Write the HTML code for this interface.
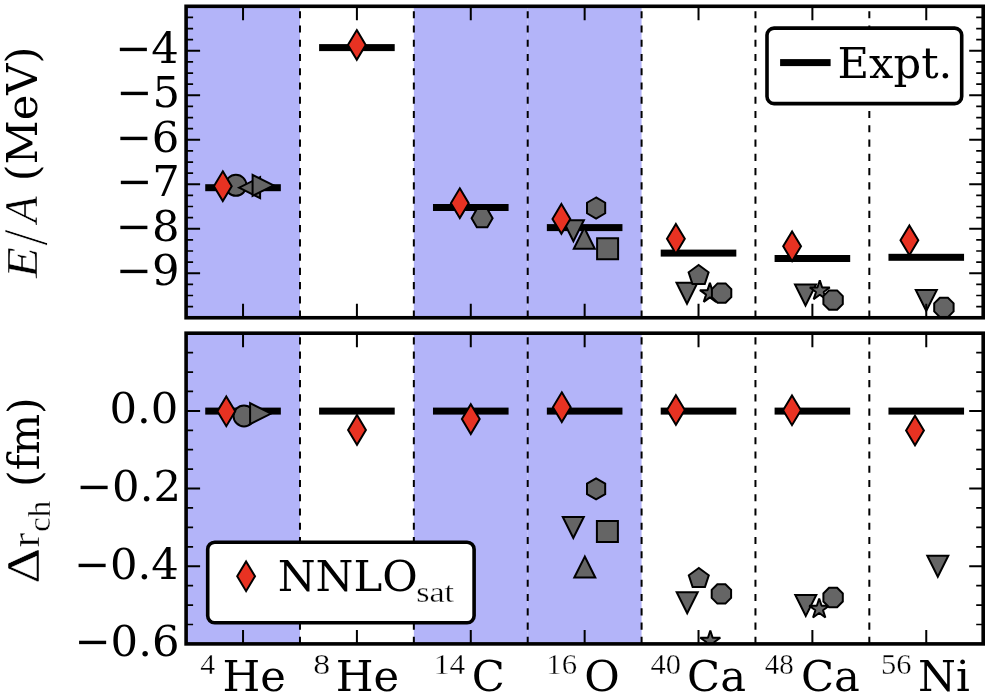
<!DOCTYPE html>
<html><head><meta charset="utf-8"><title>plot</title>
<style>html,body{margin:0;padding:0;background:#fff;}svg{display:block;}</style>
</head><body>
<svg width="992" height="698" viewBox="0 0 992 698">
<rect width="992" height="698" fill="#fff"/>
<clipPath id="c1"><rect x="186.1" y="6.3" width="797.1" height="311.45"/></clipPath>
<g clip-path="url(#c1)">
<rect x="186.1" y="6.3" width="113.87" height="311.45" fill="#b3b4f9"/>
<rect x="413.84" y="6.3" width="113.87" height="311.45" fill="#b3b4f9"/>
<rect x="527.71" y="6.3" width="113.87" height="311.45" fill="#b3b4f9"/>
<path d="M299.97 317.75 V6.3" stroke="#000" stroke-width="2" stroke-dasharray="7.13 7.13" fill="none"/>
<path d="M413.84 317.75 V6.3" stroke="#000" stroke-width="2" stroke-dasharray="7.13 7.13" fill="none"/>
<path d="M527.71 317.75 V6.3" stroke="#000" stroke-width="2" stroke-dasharray="7.13 7.13" fill="none"/>
<path d="M641.59 317.75 V6.3" stroke="#000" stroke-width="2" stroke-dasharray="7.13 7.13" fill="none"/>
<path d="M755.46 317.75 V6.3" stroke="#000" stroke-width="2" stroke-dasharray="7.13 7.13" fill="none"/>
<path d="M869.33 317.75 V6.3" stroke="#000" stroke-width="2" stroke-dasharray="7.13 7.13" fill="none"/>
<rect x="205.24" y="184.2" width="75.6" height="7" fill="#000"/>
<rect x="319.11" y="44.1" width="75.6" height="7" fill="#000"/>
<rect x="432.98" y="204" width="75.6" height="7" fill="#000"/>
<rect x="546.85" y="224.1" width="75.6" height="7" fill="#000"/>
<rect x="660.72" y="249.6" width="75.6" height="7" fill="#000"/>
<rect x="774.59" y="255" width="75.6" height="7" fill="#000"/>
<rect x="888.46" y="253.8" width="75.6" height="7" fill="#000"/>
<circle cx="235.9" cy="185.3" r="10.5" fill="#656565" stroke="#000" stroke-width="2"/>
<path d="M239.1 187.7 L260.1 198.2 L260.1 177.2 Z" fill="#656565" stroke="#000" stroke-width="2" stroke-linejoin="miter" stroke-miterlimit="10"/>
<path d="M273.6 185.35 L252.6 174.85 L252.6 195.85 Z" fill="#656565" stroke="#000" stroke-width="2" stroke-linejoin="miter" stroke-miterlimit="10"/>
<path d="M476.85 209.11 L471.6 218.2 L476.85 227.29 L487.35 227.29 L492.6 218.2 L487.35 209.11 Z" fill="#656565" stroke="#000" stroke-width="2" stroke-linejoin="miter" stroke-miterlimit="10"/>
<path d="M573.4 241.2 L583.9 220.2 L562.9 220.2 Z" fill="#656565" stroke="#000" stroke-width="2" stroke-linejoin="miter" stroke-miterlimit="10"/>
<path d="M584.3 227.8 L573.8 248.8 L594.8 248.8 Z" fill="#656565" stroke="#000" stroke-width="2" stroke-linejoin="miter" stroke-miterlimit="10"/>
<path d="M597.1 238.3 L618.1 238.3 L618.1 259.3 L597.1 259.3 Z" fill="#656565" stroke="#000" stroke-width="2" stroke-linejoin="miter" stroke-miterlimit="10"/>
<path d="M596.1 197.5 L587.01 202.75 L587.01 213.25 L596.1 218.5 L605.19 213.25 L605.19 202.75 Z" fill="#656565" stroke="#000" stroke-width="2" stroke-linejoin="miter" stroke-miterlimit="10"/>
<path d="M687 303.8 L697.5 282.8 L676.5 282.8 Z" fill="#656565" stroke="#000" stroke-width="2" stroke-linejoin="miter" stroke-miterlimit="10"/>
<path d="M698.6 265 L688.61 272.26 L692.43 283.99 L704.77 283.99 L708.59 272.26 Z" fill="#656565" stroke="#000" stroke-width="2" stroke-linejoin="miter" stroke-miterlimit="10"/>
<path d="M709.9 282.9 L707.54 290.16 L699.91 290.16 L706.09 294.64 L703.73 301.89 L709.9 297.41 L716.07 301.89 L713.71 294.64 L719.89 290.16 L712.26 290.16 Z" fill="#656565" stroke="#000" stroke-width="2" stroke-linejoin="bevel" stroke-miterlimit="10"/>
<path d="M717.58 283.4 L711.9 289.08 L711.9 297.12 L717.58 302.8 L725.62 302.8 L731.3 297.12 L731.3 289.08 L725.62 283.4 Z" fill="#656565" stroke="#000" stroke-width="2" stroke-linejoin="miter" stroke-miterlimit="10"/>
<path d="M805.5 305.5 L816 284.5 L795 284.5 Z" fill="#656565" stroke="#000" stroke-width="2" stroke-linejoin="miter" stroke-miterlimit="10"/>
<path d="M819.8 280.3 L817.44 287.56 L809.81 287.56 L815.99 292.04 L813.63 299.29 L819.8 294.81 L825.97 299.29 L823.61 292.04 L829.79 287.56 L822.16 287.56 Z" fill="#656565" stroke="#000" stroke-width="2" stroke-linejoin="bevel" stroke-miterlimit="10"/>
<path d="M829.08 290.4 L823.4 296.08 L823.4 304.12 L829.08 309.8 L837.12 309.8 L842.8 304.12 L842.8 296.08 L837.12 290.4 Z" fill="#656565" stroke="#000" stroke-width="2" stroke-linejoin="miter" stroke-miterlimit="10"/>
<path d="M926.3 310.9 L936.8 289.9 L915.8 289.9 Z" fill="#656565" stroke="#000" stroke-width="2" stroke-linejoin="miter" stroke-miterlimit="10"/>
<path d="M939.88 297.7 L934.2 303.38 L934.2 311.42 L939.88 317.1 L947.92 317.1 L953.6 311.42 L953.6 303.38 L947.92 297.7 Z" fill="#656565" stroke="#000" stroke-width="2" stroke-linejoin="miter" stroke-miterlimit="10"/>
<path d="M222.8 171.35 L231.71 186.2 L222.8 201.05 L213.89 186.2 Z" fill="#e83222" stroke="#000" stroke-width="2" stroke-linejoin="miter" stroke-miterlimit="10"/>
<path d="M356.8 30.1 L365.71 44.95 L356.8 59.8 L347.89 44.95 Z" fill="#e83222" stroke="#000" stroke-width="2" stroke-linejoin="miter" stroke-miterlimit="10"/>
<path d="M459.8 188.35 L468.71 203.2 L459.8 218.05 L450.89 203.2 Z" fill="#e83222" stroke="#000" stroke-width="2" stroke-linejoin="miter" stroke-miterlimit="10"/>
<path d="M561.4 204.05 L570.31 218.9 L561.4 233.75 L552.49 218.9 Z" fill="#e83222" stroke="#000" stroke-width="2" stroke-linejoin="miter" stroke-miterlimit="10"/>
<path d="M675.9 223.95 L684.81 238.8 L675.9 253.65 L666.99 238.8 Z" fill="#e83222" stroke="#000" stroke-width="2" stroke-linejoin="miter" stroke-miterlimit="10"/>
<path d="M792.1 231.45 L801.01 246.3 L792.1 261.15 L783.19 246.3 Z" fill="#e83222" stroke="#000" stroke-width="2" stroke-linejoin="miter" stroke-miterlimit="10"/>
<path d="M909.4 225.45 L918.31 240.3 L909.4 255.15 L900.49 240.3 Z" fill="#e83222" stroke="#000" stroke-width="2" stroke-linejoin="miter" stroke-miterlimit="10"/>
</g>
<path d="M186.1 273.26h14M983.2 273.26h-14M186.1 228.76h14M983.2 228.76h-14M186.1 184.27h14M983.2 184.27h-14M186.1 139.78h14M983.2 139.78h-14M186.1 95.29h14M983.2 95.29h-14M186.1 50.79h14M983.2 50.79h-14M243.04 6.3v14M243.04 317.75v-14M356.91 6.3v14M356.91 317.75v-14M470.78 6.3v14M470.78 317.75v-14M584.65 6.3v14M584.65 317.75v-14M698.52 6.3v14M698.52 317.75v-14M812.39 6.3v14M812.39 317.75v-14M926.26 6.3v14M926.26 317.75v-14" stroke="#000" stroke-width="2" fill="none"/>
<path d="M186.1 306.63h7M983.2 306.63h-7M186.1 295.5h7M983.2 295.5h-7M186.1 284.38h7M983.2 284.38h-7M186.1 262.13h7M983.2 262.13h-7M186.1 251.01h7M983.2 251.01h-7M186.1 239.89h7M983.2 239.89h-7M186.1 217.64h7M983.2 217.64h-7M186.1 206.52h7M983.2 206.52h-7M186.1 195.39h7M983.2 195.39h-7M186.1 173.15h7M983.2 173.15h-7M186.1 162.03h7M983.2 162.03h-7M186.1 150.9h7M983.2 150.9h-7M186.1 128.66h7M983.2 128.66h-7M186.1 117.53h7M983.2 117.53h-7M186.1 106.41h7M983.2 106.41h-7M186.1 84.16h7M983.2 84.16h-7M186.1 73.04h7M983.2 73.04h-7M186.1 61.92h7M983.2 61.92h-7M186.1 39.67h7M983.2 39.67h-7M186.1 28.55h7M983.2 28.55h-7M186.1 17.42h7M983.2 17.42h-7" stroke="#000" stroke-width="1.7" fill="none"/>
<rect x="186.1" y="6.3" width="797.1" height="311.45" fill="none" stroke="#000" stroke-width="3.6"/>
<clipPath id="c2"><rect x="186.1" y="333.2" width="797.1" height="310.7"/></clipPath>
<g clip-path="url(#c2)">
<rect x="186.1" y="333.2" width="113.87" height="310.7" fill="#b3b4f9"/>
<rect x="413.84" y="333.2" width="113.87" height="310.7" fill="#b3b4f9"/>
<rect x="527.71" y="333.2" width="113.87" height="310.7" fill="#b3b4f9"/>
<path d="M299.97 643.9 V333.2" stroke="#000" stroke-width="2" stroke-dasharray="7.13 7.13" fill="none"/>
<path d="M413.84 643.9 V333.2" stroke="#000" stroke-width="2" stroke-dasharray="7.13 7.13" fill="none"/>
<path d="M527.71 643.9 V333.2" stroke="#000" stroke-width="2" stroke-dasharray="7.13 7.13" fill="none"/>
<path d="M641.59 643.9 V333.2" stroke="#000" stroke-width="2" stroke-dasharray="7.13 7.13" fill="none"/>
<path d="M755.46 643.9 V333.2" stroke="#000" stroke-width="2" stroke-dasharray="7.13 7.13" fill="none"/>
<path d="M869.33 643.9 V333.2" stroke="#000" stroke-width="2" stroke-dasharray="7.13 7.13" fill="none"/>
<rect x="205.24" y="407.6" width="75.6" height="7" fill="#000"/>
<rect x="319.11" y="407.6" width="75.6" height="7" fill="#000"/>
<rect x="432.98" y="407.6" width="75.6" height="7" fill="#000"/>
<rect x="546.85" y="407.6" width="75.6" height="7" fill="#000"/>
<rect x="660.72" y="407.6" width="75.6" height="7" fill="#000"/>
<rect x="774.59" y="407.6" width="75.6" height="7" fill="#000"/>
<rect x="888.46" y="407.6" width="75.6" height="7" fill="#000"/>
<circle cx="244" cy="415.9" r="10.5" fill="#656565" stroke="#000" stroke-width="2"/>
<path d="M271.1 413.6 L250.1 403.1 L250.1 424.1 Z" fill="#656565" stroke="#000" stroke-width="2" stroke-linejoin="miter" stroke-miterlimit="10"/>
<path d="M573.3 538 L583.8 517 L562.8 517 Z" fill="#656565" stroke="#000" stroke-width="2" stroke-linejoin="miter" stroke-miterlimit="10"/>
<path d="M584.8 556.6 L574.3 577.6 L595.3 577.6 Z" fill="#656565" stroke="#000" stroke-width="2" stroke-linejoin="miter" stroke-miterlimit="10"/>
<path d="M596.9 521 L617.9 521 L617.9 542 L596.9 542 Z" fill="#656565" stroke="#000" stroke-width="2" stroke-linejoin="miter" stroke-miterlimit="10"/>
<path d="M596.1 478.4 L587.01 483.65 L587.01 494.15 L596.1 499.4 L605.19 494.15 L605.19 483.65 Z" fill="#656565" stroke="#000" stroke-width="2" stroke-linejoin="miter" stroke-miterlimit="10"/>
<path d="M687.2 613.2 L697.7 592.2 L676.7 592.2 Z" fill="#656565" stroke="#000" stroke-width="2" stroke-linejoin="miter" stroke-miterlimit="10"/>
<path d="M698.8 568 L688.81 575.26 L692.63 586.99 L704.97 586.99 L708.79 575.26 Z" fill="#656565" stroke="#000" stroke-width="2" stroke-linejoin="miter" stroke-miterlimit="10"/>
<path d="M710.3 630.5 L707.94 637.76 L700.31 637.76 L706.49 642.24 L704.13 649.49 L710.3 645.01 L716.47 649.49 L714.11 642.24 L720.29 637.76 L712.66 637.76 Z" fill="#656565" stroke="#000" stroke-width="2" stroke-linejoin="bevel" stroke-miterlimit="10"/>
<path d="M717.38 584.2 L711.7 589.88 L711.7 597.92 L717.38 603.6 L725.42 603.6 L731.1 597.92 L731.1 589.88 L725.42 584.2 Z" fill="#656565" stroke="#000" stroke-width="2" stroke-linejoin="miter" stroke-miterlimit="10"/>
<path d="M805.8 615.9 L816.3 594.9 L795.3 594.9 Z" fill="#656565" stroke="#000" stroke-width="2" stroke-linejoin="miter" stroke-miterlimit="10"/>
<path d="M819.2 598.5 L816.84 605.76 L809.21 605.76 L815.39 610.24 L813.03 617.49 L819.2 613.01 L825.37 617.49 L823.01 610.24 L829.19 605.76 L821.56 605.76 Z" fill="#656565" stroke="#000" stroke-width="2" stroke-linejoin="bevel" stroke-miterlimit="10"/>
<path d="M829.08 587.8 L823.4 593.48 L823.4 601.52 L829.08 607.2 L837.12 607.2 L842.8 601.52 L842.8 593.48 L837.12 587.8 Z" fill="#656565" stroke="#000" stroke-width="2" stroke-linejoin="miter" stroke-miterlimit="10"/>
<path d="M937.8 576.7 L948.3 555.7 L927.3 555.7 Z" fill="#656565" stroke="#000" stroke-width="2" stroke-linejoin="miter" stroke-miterlimit="10"/>
<path d="M226.3 396.45 L235.21 411.3 L226.3 426.15 L217.39 411.3 Z" fill="#e83222" stroke="#000" stroke-width="2" stroke-linejoin="miter" stroke-miterlimit="10"/>
<path d="M357 415.05 L365.91 429.9 L357 444.75 L348.09 429.9 Z" fill="#e83222" stroke="#000" stroke-width="2" stroke-linejoin="miter" stroke-miterlimit="10"/>
<path d="M470.8 404.25 L479.71 419.1 L470.8 433.95 L461.89 419.1 Z" fill="#e83222" stroke="#000" stroke-width="2" stroke-linejoin="miter" stroke-miterlimit="10"/>
<path d="M561.8 392.35 L570.71 407.2 L561.8 422.05 L552.89 407.2 Z" fill="#e83222" stroke="#000" stroke-width="2" stroke-linejoin="miter" stroke-miterlimit="10"/>
<path d="M675.9 395.15 L684.81 410 L675.9 424.85 L666.99 410 Z" fill="#e83222" stroke="#000" stroke-width="2" stroke-linejoin="miter" stroke-miterlimit="10"/>
<path d="M792 395.45 L800.91 410.3 L792 425.15 L783.09 410.3 Z" fill="#e83222" stroke="#000" stroke-width="2" stroke-linejoin="miter" stroke-miterlimit="10"/>
<path d="M915 415.65 L923.91 430.5 L915 445.35 L906.09 430.5 Z" fill="#e83222" stroke="#000" stroke-width="2" stroke-linejoin="miter" stroke-miterlimit="10"/>
</g>
<path d="M186.1 566.23h14M983.2 566.23h-14M186.1 488.55h14M983.2 488.55h-14M186.1 410.88h14M983.2 410.88h-14M243.04 333.2v14M243.04 643.9v-14M356.91 333.2v14M356.91 643.9v-14M470.78 333.2v14M470.78 643.9v-14M584.65 333.2v14M584.65 643.9v-14M698.52 333.2v14M698.52 643.9v-14M812.39 333.2v14M812.39 643.9v-14M926.26 333.2v14M926.26 643.9v-14" stroke="#000" stroke-width="2" fill="none"/>
<path d="M186.1 624.48h7M983.2 624.48h-7M186.1 605.06h7M983.2 605.06h-7M186.1 585.64h7M983.2 585.64h-7M186.1 546.81h7M983.2 546.81h-7M186.1 527.39h7M983.2 527.39h-7M186.1 507.97h7M983.2 507.97h-7M186.1 469.13h7M983.2 469.13h-7M186.1 449.71h7M983.2 449.71h-7M186.1 430.29h7M983.2 430.29h-7M186.1 391.46h7M983.2 391.46h-7M186.1 372.04h7M983.2 372.04h-7M186.1 352.62h7M983.2 352.62h-7" stroke="#000" stroke-width="1.7" fill="none"/>
<rect x="186.1" y="333.2" width="797.1" height="310.7" fill="none" stroke="#000" stroke-width="3.6"/>
<rect x="767" y="28.1" width="194.7" height="75.5" rx="7" ry="7" fill="#fff" stroke="#000" stroke-width="3.6"/>
<rect x="780.1" y="59.1" width="50.5" height="7" fill="#000"/>
<text x="837.42" y="77.8" font-family='"DejaVu Serif", serif' font-size="43.3">Expt.</text>
<rect x="207.7" y="542.2" width="266.4" height="80.5" rx="7" ry="7" fill="#fff" stroke="#000" stroke-width="3.6"/>
<path d="M246.1 561.45 L255.01 576.3 L246.1 591.15 L237.19 576.3 Z" fill="#e83222" stroke="#000" stroke-width="2" stroke-linejoin="miter" stroke-miterlimit="10"/>
<text x="277.68" y="591.4" font-family='"DejaVu Serif", serif' font-size="43.3">NNLO</text>
<text transform="translate(416.19 602.26) scale(1.1256 0.9724)" font-family='"Liberation Serif", serif' font-size="30.31" stroke="#fff" stroke-width="0.35">sat</text>
<text x="115.62" y="285.06" font-family='"DejaVu Serif", serif' font-size="43.3">−9</text>
<text x="115.62" y="240.56" font-family='"DejaVu Serif", serif' font-size="43.3">−8</text>
<text x="115.88" y="196.07" font-family='"DejaVu Serif", serif' font-size="43.3">−7</text>
<text x="115.5" y="151.58" font-family='"DejaVu Serif", serif' font-size="43.3">−6</text>
<text x="116.12" y="107.09" font-family='"DejaVu Serif", serif' font-size="43.3">−5</text>
<text x="114.88" y="62.59" font-family='"DejaVu Serif", serif' font-size="43.3">−4</text>
<text x="74.35" y="656.2" font-family='"DejaVu Serif", serif' font-size="43.3">−0.6</text>
<text x="73.72" y="578.52" font-family='"DejaVu Serif", serif' font-size="43.3">−0.4</text>
<text x="75.85" y="500.85" font-family='"DejaVu Serif", serif' font-size="43.3">−0.2</text>
<text x="109.43" y="423.18" font-family='"DejaVu Serif", serif' font-size="43.3">0.0</text>
<text transform="translate(200.28 673.8) scale(0.9857 1.0013)" font-family='"Liberation Serif", serif' font-size="30.31" stroke="#fff" stroke-width="0.35">4</text>
<text x="222.43" y="691.2" font-family='"DejaVu Serif", serif' font-size="43.3">He</text>
<text transform="translate(313.14 673.56) scale(1.1184 0.9767)" font-family='"Liberation Serif", serif' font-size="30.31" stroke="#fff" stroke-width="0.35">8</text>
<text x="335.73" y="691.2" font-family='"DejaVu Serif", serif' font-size="43.3">He</text>
<text transform="translate(433.67 673.8) scale(1.0396 0.9950)" font-family='"Liberation Serif", serif' font-size="30.31" stroke="#fff" stroke-width="0.35">14</text>
<text x="471.73" y="691.2" font-family='"DejaVu Serif", serif' font-size="43.3">C</text>
<text transform="translate(546.34 673.55) scale(1.0131 0.9827)" font-family='"Liberation Serif", serif' font-size="30.31" stroke="#fff" stroke-width="0.35">16</text>
<text x="584.33" y="691.2" font-family='"DejaVu Serif", serif' font-size="43.3">O</text>
<text transform="translate(650.47 673.56) scale(1.0035 0.9767)" font-family='"Liberation Serif", serif' font-size="30.31" stroke="#fff" stroke-width="0.35">40</text>
<text x="687.02" y="691.2" font-family='"DejaVu Serif", serif' font-size="43.3">Ca</text>
<text transform="translate(764.7 673.56) scale(0.9579 0.9767)" font-family='"Liberation Serif", serif' font-size="30.31" stroke="#fff" stroke-width="0.35">48</text>
<text x="800.92" y="691.2" font-family='"DejaVu Serif", serif' font-size="43.3">Ca</text>
<text transform="translate(880.94 673.55) scale(1.0063 0.9827)" font-family='"Liberation Serif", serif' font-size="30.31" stroke="#fff" stroke-width="0.35">56</text>
<text x="918.08" y="691.2" font-family='"DejaVu Serif", serif' font-size="43.3">Ni</text>
<text transform="translate(37 277.92) rotate(-90) scale(1.1657 1.0150)" font-family='"Liberation Serif", serif' font-size="43.3" font-style="italic" stroke="#fff" stroke-width="0.35">E</text>
<text transform="translate(47.15 245.8) rotate(-90) scale(1.3583 1.4719)" font-family='"Liberation Serif", serif' font-size="43.3" stroke="#fff" stroke-width="0.6">/</text>
<text transform="translate(37.4 222.71) rotate(-90) scale(1.0043 1.0842)" font-family='"Liberation Serif", serif' font-size="43.3" font-style="italic" stroke="#fff" stroke-width="0.35">A</text>
<text transform="translate(37.16 181.26) rotate(-90) scale(0.9967 0.9842)" font-family='"DejaVu Serif", serif' font-size="43.3">(MeV)</text>
<text transform="translate(38.8 583.57) rotate(-90) scale(1.2751 1.0667)" font-family='"Liberation Serif", serif' font-size="43.3" stroke="#fff" stroke-width="0.35">Δ</text>
<text transform="translate(38.8 547.39) rotate(-90) scale(1.0210 0.9178)" font-family='"Liberation Serif", serif' font-size="43.3" stroke="#fff" stroke-width="0.35">r</text>
<text transform="translate(50.14 531.93) rotate(-90) scale(1.0963 1.0259)" font-family='"Liberation Serif", serif' font-size="30.31" stroke="#fff" stroke-width="0.35">ch</text>
<text transform="translate(39.24 487.03) rotate(-90) scale(0.9881 0.9868)" font-family='"DejaVu Serif", serif' font-size="43.3">(fm)</text>
</svg>
</body></html>
